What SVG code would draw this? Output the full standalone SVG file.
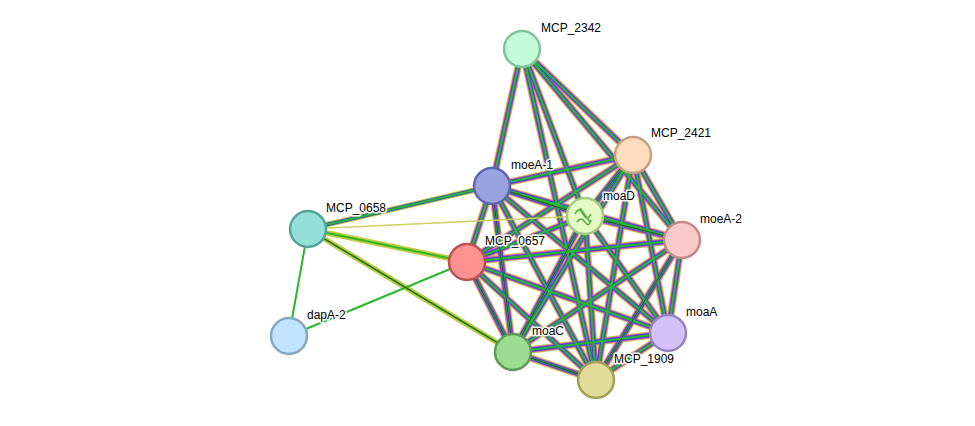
<svg xmlns="http://www.w3.org/2000/svg" width="975" height="426" viewBox="0 0 975 426">
<style>
.n{stroke-width:2.5}
.t{font-family:"Liberation Sans",Arial,sans-serif;font-size:12px;fill:#000;stroke:#fff;stroke-width:3;paint-order:stroke;stroke-linejoin:round}
.e{fill:none}
</style>
<rect width="975" height="426" fill="#fff"/>
<g id="edges">
<g id="full">
<path class="e" stroke="#c8c840" stroke-width="7.5" d="M492,186L585,216M492,186L633,155M492,186L682,240M492,186L467,262M492,186L513,352M492,186L668,333M492,186L596,380M633,155L585,216M633,155L682,240M633,155L513,352M633,155L668,333M633,155L596,380M585,216L682,240M585,216L513,352M585,216L668,333M585,216L596,380M585,216L467,262M682,240L513,352M682,240L668,333M682,240L596,380M467,262L513,352M467,262L596,380M513,352L668,333M513,352L596,380M668,333L596,380M522,49L492,186M522,49L633,155M522,49L682,240M522,49L585,216M522,49L596,380M467,262L682,240M467,262L668,333M467,262L633,155"/>
<path class="e" stroke="#d838d8" stroke-width="5.5" d="M492,186L585,216M492,186L633,155M492,186L682,240M492,186L467,262M492,186L513,352M492,186L668,333M492,186L596,380M633,155L585,216M633,155L682,240M633,155L513,352M633,155L668,333M633,155L596,380M585,216L682,240M585,216L513,352M585,216L668,333M585,216L596,380M585,216L467,262M682,240L513,352M682,240L668,333M682,240L596,380M467,262L513,352M467,262L596,380M513,352L668,333M513,352L596,380M668,333L596,380M522,49L492,186M522,49L633,155M522,49L682,240M522,49L585,216M522,49L596,380M467,262L682,240M467,262L668,333M467,262L633,155"/>
<path class="e" stroke="#3848e0" stroke-width="3.8" d="M492,186L585,216M492,186L633,155M492,186L682,240M492,186L467,262M492,186L513,352M492,186L668,333M492,186L596,380M633,155L585,216M633,155L682,240M633,155L513,352M633,155L668,333M633,155L596,380M585,216L682,240M585,216L513,352M585,216L668,333M585,216L596,380M585,216L467,262M682,240L513,352M682,240L668,333M682,240L596,380M467,262L513,352M467,262L596,380M513,352L668,333M513,352L596,380M668,333L596,380M522,49L492,186M522,49L633,155M522,49L682,240M522,49L585,216M522,49L596,380M467,262L682,240M467,262L668,333M467,262L633,155"/>
<path class="e" stroke="#28b828" stroke-width="2.2" d="M492,186L585,216M492,186L633,155M492,186L682,240M492,186L467,262M492,186L513,352M492,186L668,333M492,186L596,380M633,155L585,216M633,155L682,240M633,155L513,352M633,155L668,333M633,155L596,380M585,216L682,240M585,216L513,352M585,216L668,333M585,216L596,380M585,216L467,262M682,240L513,352M682,240L668,333M682,240L596,380M467,262L513,352M467,262L596,380M513,352L668,333M513,352L596,380M668,333L596,380M522,49L492,186M522,49L633,155M522,49L682,240M522,49L585,216M522,49L596,380M467,262L682,240M467,262L668,333M467,262L633,155"/>
<path class="e" stroke="#303030" stroke-width="0.8" d="M492,186L585,216M633,155L585,216M585,216L682,240M585,216L513,352M492,186L513,352M513,352L596,380M682,240L596,380M467,262L513,352"/>
</g>
<g id="light">
<path class="e" stroke="#c8c840" stroke-width="5.5" d="M308,229L492,186M308,229L467,262M308,229L513,352"/>
<path class="e" stroke="#3848e0" stroke-width="3.5" d="M308,229L492,186"/>
<path class="e" stroke="#28b828" stroke-width="2" d="M308,229L492,186M308,229L467,262M308,229L513,352M289,336L308,229M289,336L467,262"/>
<path class="e" stroke="#303030" stroke-width="0.8" d="M308,229L513,352"/>
<path class="e" stroke="#d0d060" stroke-width="1.5" d="M308,229L585,216"/>
</g>
</g>
<g id="MCP_2342"><circle class="n" cx="522" cy="49" r="18" fill="#c2fcd8" stroke="#80c49c"/><text class="t" x="541" y="32">MCP_2342</text></g>
<g id="MCP_2421"><circle class="n" cx="633" cy="155" r="18" fill="#fdddbd" stroke="#c8a080"/><text class="t" x="651" y="137">MCP_2421</text></g>
<g id="moeA-1"><circle class="n" cx="492" cy="186" r="18" fill="#9aa3e0" stroke="#5e66b4"/><text class="t" x="511" y="169">moeA-1</text></g>
<g id="moaD"><circle class="n" cx="585" cy="216" r="18" fill="#e4fcc4" stroke="#a4cc80"/><path d="M575,214q4,-8 8,0t8,0M577,222q4,-6 8,0t6,-2M580,208l10,14" fill="none" stroke="#50b040" stroke-width="1.5"/><text class="t" x="603" y="200">moaD</text></g>
<g id="moeA-2"><circle class="n" cx="682" cy="240" r="18" fill="#f9c8c8" stroke="#c48a8a"/><text class="t" x="700" y="223">moeA-2</text></g>
<g id="MCP_0658"><circle class="n" cx="308" cy="229" r="18" fill="#92e0d8" stroke="#58a49c"/><text class="t" x="326" y="212">MCP_0658</text></g>
<g id="MCP_0657"><circle class="n" cx="467" cy="262" r="18" fill="#fe9292" stroke="#c05050"/><text class="t" x="485" y="245">MCP_0657</text></g>
<g id="dapA-2"><circle class="n" cx="289" cy="336" r="18" fill="#c2e4fc" stroke="#80a8c4"/><text class="t" x="307" y="319">dapA-2</text></g>
<g id="moaC"><circle class="n" cx="513" cy="352" r="18" fill="#9cdc90" stroke="#5c9c54"/><text class="t" x="532" y="335">moaC</text></g>
<g id="moaA"><circle class="n" cx="668" cy="333" r="18" fill="#d2c2f8" stroke="#9484c0"/><text class="t" x="686" y="316">moaA</text></g>
<g id="MCP_1909"><circle class="n" cx="596" cy="380" r="18" fill="#e0dc98" stroke="#a4a058"/><text class="t" x="614" y="363">MCP_1909</text></g>
</svg>
